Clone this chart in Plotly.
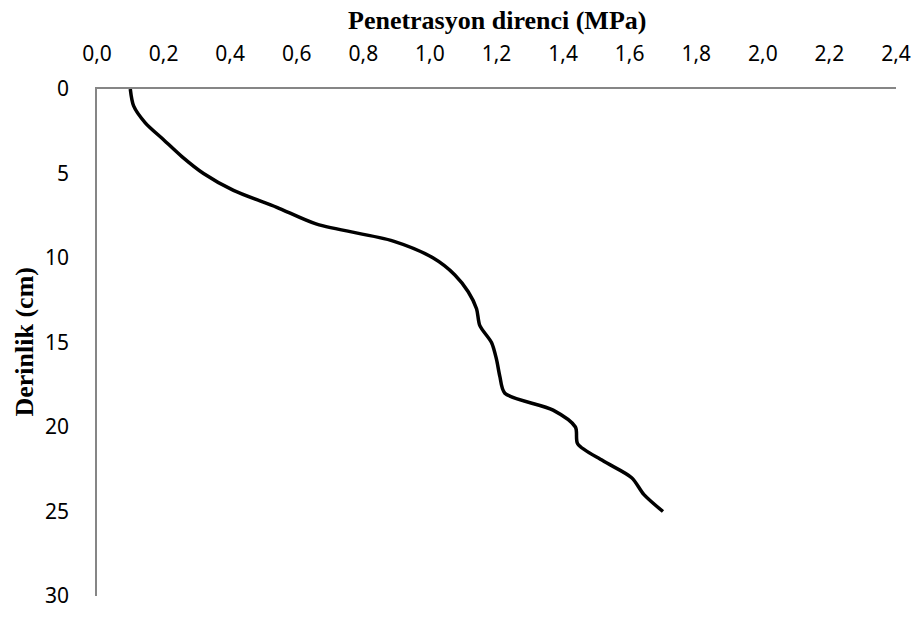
import plotly.graph_objects as go

# Data
depth_cm = [0, 1, 2, 3, 4, 5, 6, 7, 8, 9, 10, 11, 12, 13, 14, 15, 16, 17, 18, 19, 20, 21, 22, 23, 24, 25]
resistance_mpa = [0.10, 0.11, 0.145, 0.20, 0.255, 0.32, 0.41, 0.54, 0.66, 0.89, 1.01, 1.075, 1.115,
                  1.14, 1.15, 1.185, 1.20, 1.21, 1.225, 1.37, 1.437, 1.444, 1.52, 1.606, 1.643, 1.70]

x_ticks = [0.0, 0.2, 0.4, 0.6, 0.8, 1.0, 1.2, 1.4, 1.6, 1.8, 2.0, 2.2, 2.4]
x_tick_labels = [f"{v:.1f}".replace(".", ",") for v in x_ticks]
y_ticks = [0, 5, 10, 15, 20, 25, 30]

x_title = "Penetrasyon direnci (MPa)"
y_title = "Derinlik (cm)"

fig = go.Figure()
fig.add_trace(go.Scatter(
    x=resistance_mpa, y=depth_cm, mode="lines",
    line=dict(color="black", width=3.5, shape="spline", smoothing=0.8),
    showlegend=False, hoverinfo="skip",
))

tick_font = dict(family="Noto Sans, Open Sans, sans-serif", size=21, color="black")
title_font = dict(family="Liberation Serif, Times New Roman, serif", size=26, color="black")

fig.update_layout(
    width=923, height=621,
    margin=dict(l=97, r=25, t=89, b=15),
    paper_bgcolor="white", plot_bgcolor="white",
    xaxis=dict(
        side="top", range=[0, 2.4], tickvals=x_ticks, ticktext=x_tick_labels,
        showgrid=False, zeroline=False, showline=True, linecolor="#868686", linewidth=1.5,
        ticks="", tickfont=tick_font, ticklabelstandoff=18,
    ),
    yaxis=dict(
        range=[30, 0], tickvals=y_ticks, ticktext=[str(v) for v in y_ticks],
        showgrid=False, zeroline=False, showline=True, linecolor="#868686", linewidth=1.5,
        ticks="", tickfont=tick_font, ticklabelstandoff=22,
    ),
    annotations=[
        dict(text=f"<b>{x_title}</b>", xref="paper", yref="paper", x=0.5, y=1,
             yshift=69, showarrow=False, font=title_font, xanchor="center", yanchor="middle"),
        dict(text=f"<b>{y_title}</b>", xref="paper", yref="paper", x=0, y=0.5,
             xshift=-73, showarrow=False, font=title_font, textangle=-90,
             xanchor="center", yanchor="middle"),
    ],
)

fig.write_html("out.html")
